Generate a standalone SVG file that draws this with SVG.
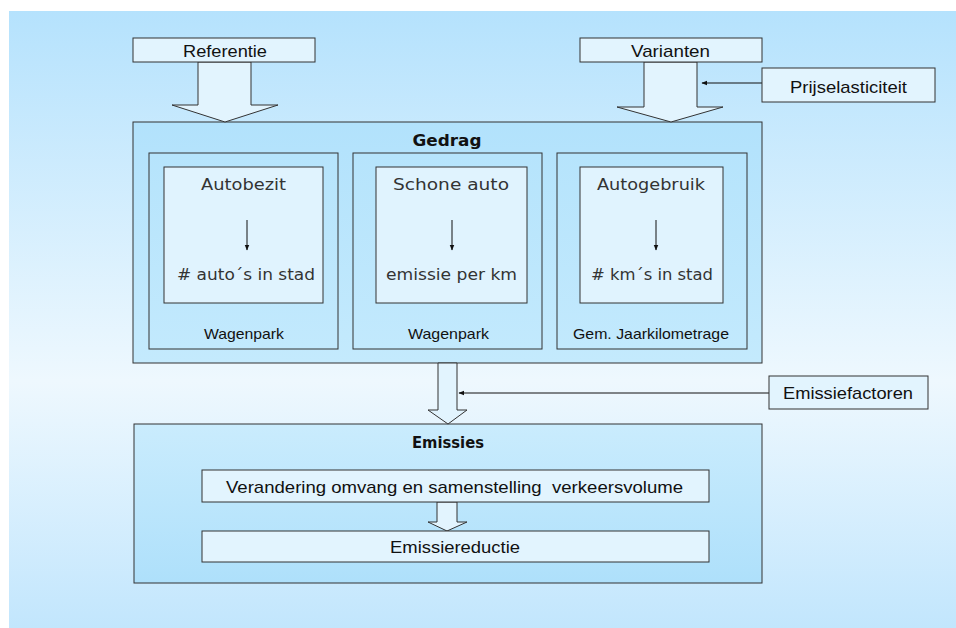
<svg xmlns="http://www.w3.org/2000/svg" width="956" height="628" viewBox="0 0 956 628">
<defs>
<linearGradient id="bg" x1="0" y1="0" x2="0" y2="1">
<stop offset="0" stop-color="#b5e2fd"/>
<stop offset="0.6" stop-color="#eef8fe"/>
<stop offset="1" stop-color="#c2e6fd"/>
</linearGradient>
<linearGradient id="panel" x1="0" y1="0" x2="0" y2="1">
<stop offset="0" stop-color="#b2e2fc"/>
<stop offset="1" stop-color="#c4eafd"/>
</linearGradient>
<linearGradient id="panel2" x1="0" y1="0" x2="0" y2="1">
<stop offset="0" stop-color="#caecfd"/>
<stop offset="1" stop-color="#aee0fb"/>
</linearGradient>
<linearGradient id="sub" x1="0" y1="0" x2="0" y2="1">
<stop offset="0" stop-color="#b6e4fc"/>
<stop offset="1" stop-color="#c2e9fd"/>
</linearGradient>
<marker id="ah" viewBox="0 0 10 10" refX="9" refY="5" markerWidth="6" markerHeight="6" orient="auto" markerUnits="userSpaceOnUse">
<path d="M0,1 L10,5 L0,9 z" fill="#111"/>
</marker>
</defs>
<style>
.box{fill:#e2f4fe;stroke:#333;stroke-width:1}
.panel{fill:url(#panel);stroke:#333;stroke-width:1}
.panel2{fill:url(#panel2);stroke:#333;stroke-width:1}
.sub{fill:url(#sub);stroke:#333;stroke-width:1}
.inner{fill:#e0f3fe;stroke:#333;stroke-width:1}
.arrowbig{fill:#e2f4fe;stroke:#333;stroke-width:1}
.lbl{font-family:"Liberation Sans",Arial,sans-serif;font-size:17px;fill:#111;text-anchor:middle}
.small{font-family:"Liberation Sans",Arial,sans-serif;font-size:15px;fill:#111;text-anchor:middle}
.geo{font-family:"DejaVu Sans",sans-serif;font-size:16px;fill:#333;text-anchor:middle}
.title{font-family:"DejaVu Sans",sans-serif;font-size:16px;font-weight:bold;fill:#111;text-anchor:middle}
.conn{stroke:#111;stroke-width:1;fill:none}
</style>
<rect x="9" y="11" width="947" height="617" fill="url(#bg)"/>

<g id="gedrag">
<rect class="panel" x="133" y="122" width="629" height="241"/>
<text class="title" x="447" y="146" textLength="69" lengthAdjust="spacingAndGlyphs">Gedrag</text>
</g>
<g id="wagenpark1">
<rect class="sub" x="149" y="153" width="189" height="196"/>
<rect class="inner" x="164" y="167" width="159" height="136"/>
<text class="geo" x="243.5" y="190" textLength="85" lengthAdjust="spacingAndGlyphs">Autobezit</text>
<text class="geo" x="246" y="280" textLength="138" lengthAdjust="spacingAndGlyphs"># auto´s in stad</text>
<text class="small" x="244" y="339" textLength="80" lengthAdjust="spacingAndGlyphs">Wagenpark</text>
</g>
<g id="wagenpark2">
<rect class="sub" x="353" y="153" width="189" height="196"/>
<rect class="inner" x="376" y="167" width="151" height="136"/>
<text class="geo" x="451" y="190" textLength="116" lengthAdjust="spacingAndGlyphs">Schone auto</text>
<text class="geo" x="451.5" y="280" textLength="131" lengthAdjust="spacingAndGlyphs">emissie per km</text>
<text class="small" x="448.5" y="339" textLength="81" lengthAdjust="spacingAndGlyphs">Wagenpark</text>
</g>
<g id="jaarkilometrage">
<rect class="sub" x="557" y="153" width="190" height="196"/>
<rect class="inner" x="580" y="167" width="143" height="136"/>
<text class="geo" x="651" y="190" textLength="108" lengthAdjust="spacingAndGlyphs">Autogebruik</text>
<text class="geo" x="652" y="280" textLength="122" lengthAdjust="spacingAndGlyphs"># km´s in stad</text>
<text class="small" x="651" y="339" textLength="156" lengthAdjust="spacingAndGlyphs">Gem. Jaarkilometrage</text>
</g>

<g id="emissies">
<rect class="panel2" x="134" y="424" width="628" height="159"/>
<text class="title" x="448" y="448" textLength="72" lengthAdjust="spacingAndGlyphs">Emissies</text>
</g>

<g id="connectors">
<polygon class="arrowbig" points="198,62 251,62 251,105 278,105 225,122 172,105 198,105"/>
<polygon class="arrowbig" points="644,62 697,62 697,107 723,107 671,122 617,107 644,107"/>
<polygon class="arrowbig" points="438,363 457,363 457,410 467,410 448,424 428,410 438,410"/>
<polygon class="arrowbig" points="437,502 457,502 457,522 467,522 447,531 428,522 437,522"/>
<line class="conn" x1="762" y1="83" x2="702" y2="83" marker-end="url(#ah)"/>
<line class="conn" x1="769" y1="393" x2="459" y2="393" marker-end="url(#ah)"/>
<line class="conn" x1="247" y1="220" x2="247" y2="250" marker-end="url(#ah)"/>
<line class="conn" x1="452" y1="220" x2="452" y2="250" marker-end="url(#ah)"/>
<line class="conn" x1="656" y1="220" x2="656" y2="250" marker-end="url(#ah)"/>
</g>

<g id="referentie">
<rect class="box" x="133" y="38" width="182" height="24"/>
<text class="lbl" x="225" y="57" textLength="84" lengthAdjust="spacingAndGlyphs">Referentie</text>
</g>
<g id="varianten">
<rect class="box" x="580" y="38" width="182" height="24"/>
<text class="lbl" x="670.5" y="57" textLength="79" lengthAdjust="spacingAndGlyphs">Varianten</text>
</g>
<g id="prijselasticiteit">
<rect class="box" x="762" y="68" width="173" height="34"/>
<text class="lbl" x="848.5" y="93" textLength="117" lengthAdjust="spacingAndGlyphs">Prijselasticiteit</text>
</g>
<g id="emissiefactoren">
<rect class="box" x="769" y="376" width="159" height="33"/>
<text class="lbl" x="848" y="399" textLength="130" lengthAdjust="spacingAndGlyphs">Emissiefactoren</text>
</g>
<g id="verandering">
<rect class="box" x="202" y="470" width="507" height="32"/>
<text class="lbl" x="454.5" y="493" textLength="457" lengthAdjust="spacingAndGlyphs">Verandering omvang en samenstelling&#160; verkeersvolume</text>
</g>
<g id="emissiereductie">
<rect class="box" x="202" y="531" width="507" height="31"/>
<text class="lbl" x="455" y="553" textLength="130" lengthAdjust="spacingAndGlyphs">Emissiereductie</text>
</g>
</svg>
